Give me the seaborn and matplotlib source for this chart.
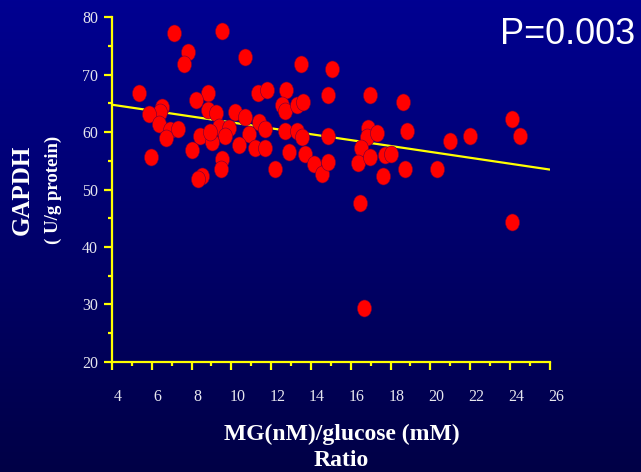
import numpy as np
import pandas as pd
import matplotlib
matplotlib.use("Agg")
import matplotlib.pyplot as plt
import matplotlib.transforms as mtransforms
from matplotlib.path import Path
import seaborn as sns

# values
ratio = [7.10, 9.55, 7.82, 7.62, 10.66, 13.52, 15.05, 5.37, 8.85, 8.23,
         11.36, 11.80, 12.72, 12.52, 12.70, 13.31, 13.61, 14.85, 16.98, 6.50,
         6.40, 5.86, 6.38, 6.92, 7.30, 6.70, 5.98, 8.80, 9.23, 10.17,
         10.67, 9.37, 9.87, 9.67, 8.43, 9.05, 11.39, 11.70, 10.89, 10.37,
         11.18, 11.70, 8.02, 12.70, 13.31, 13.54, 14.85, 12.90, 13.70, 14.13,
         14.55, 14.85, 9.55, 9.47, 8.54, 8.34, 12.20, 16.89, 16.81, 16.49,
         16.37, 16.98, 16.47, 18.62, 17.31, 18.82, 17.70, 18.03, 17.60, 18.72,
         20.35, 20.97, 21.98, 24.12, 24.52, 24.12, 16.68, 8.93]
gapdh = [77.3, 77.7, 73.9, 71.8, 73.1, 71.9, 71.0, 66.9, 66.9, 65.6,
         66.9, 67.3, 67.3, 64.7, 63.7, 64.7, 65.2, 66.4, 66.4, 64.4,
         63.5, 63.1, 61.4, 60.4, 60.6, 59.0, 55.6, 63.8, 63.4, 63.5,
         62.7, 60.9, 60.8, 59.3, 59.3, 58.2, 61.8, 60.5, 59.7, 57.7,
         57.3, 57.3, 56.9, 60.2, 60.2, 59.2, 59.4, 56.5, 56.1, 54.4,
         52.7, 54.8, 55.4, 53.6, 52.3, 51.8, 53.5, 60.8, 59.2, 57.3,
         54.7, 55.7, 47.7, 65.2, 59.8, 60.2, 56.0, 56.1, 52.4, 53.5,
         53.5, 58.5, 59.4, 62.3, 59.4, 44.4, 29.4, 60.1]
x_ticks = list(range(4, 27, 2))
y_ticks = list(range(20, 81, 10))

df = pd.DataFrame({"ratio": ratio, "gapdh": gapdh})

sns.set_style("ticks")
plt.rcParams["font.family"] = ["Liberation Serif", "DejaVu Serif"]

fig = plt.figure(figsize=(6.41, 4.72), dpi=100)

# dark blue vertical gradient background
bg = fig.add_axes([0, 0, 1, 1], zorder=-10)
grad = np.linspace(0, 1, 256).reshape(-1, 1)
top = np.array([0, 0, 145]) / 255
bot = np.array([0, 0, 70]) / 255
img = top + (bot - top) * grad[:, :, None]
bg.imshow(img, aspect="auto", extent=[0, 1, 0, 1])
bg.axis("off")

ax = fig.add_axes([0.1747, 0.2337, 0.683, 0.7296])
ax.set_facecolor("none")
ax.set_xlim(4, 26)
ax.set_ylim(20, 80)

yellow = "#FFFF00"
ellipse = Path(Path.unit_circle().vertices * [0.83, 1.0], Path.unit_circle().codes)

# fitted line over the full x range (xlim is set first so truncate=False spans it)
sns.regplot(data=df, x="ratio", y="gapdh", ax=ax, scatter=False, ci=None,
            truncate=False, line_kws={"color": yellow, "lw": 1.6, "zorder": 2})
sns.scatterplot(data=df, x="ratio", y="gapdh", ax=ax, marker=ellipse, s=150,
                color="#FF0000", edgecolor="#6A0040", linewidth=0.4, zorder=3)

ax.set_xlim(4, 26)
ax.set_ylim(20, 80)
ax.set_xticks(x_ticks)
ax.set_yticks(y_ticks)
ax.set_xticks(range(5, 26, 2), minor=True)
ax.set_yticks(range(25, 80, 10), minor=True)
ax.set_xlabel("")
ax.set_ylabel("")

for side in ["top", "right"]:
    ax.spines[side].set_visible(False)
for side in ["left", "bottom"]:
    ax.spines[side].set_color(yellow)
    ax.spines[side].set_linewidth(1.6)

ax.tick_params(which="major", length=6, width=1.6, color=yellow,
               labelcolor="#E6E6EE", labelsize=11.5)
ax.tick_params(which="minor", length=3, width=1.6, color=yellow)
ax.tick_params(axis="x", which="major", pad=14)
ax.tick_params(axis="y", which="major", pad=4)

shift = mtransforms.ScaledTranslation(6 / 100, 0, fig.dpi_scale_trans)
for lab in ax.get_xticklabels():
    lab.set_transform(lab.get_transform() + shift)

W, H = 641, 472
fig.text(342 / W, 1 - 434 / H, "MG(nM)/glucose (mM)", ha="center", va="center",
         fontsize=17, fontweight="bold", color="white")
fig.text(341 / W, 1 - 460 / H, "Ratio", ha="center", va="center",
         fontsize=17, fontweight="bold", color="white")
fig.text(22 / W, 1 - 190 / H, "GAPDH", ha="center", va="center", rotation=90,
         fontsize=18, fontweight="bold", color="white")
fig.text(53 / W, 1 - 190 / H, "( U/g protein)", ha="center", va="center",
         rotation=90, fontsize=13.5, fontweight="bold", color="white")
fig.text(568 / W, 1 - 35 / H, "P=0.003", ha="center", va="center",
         fontsize=26, color="white", family=["Liberation Sans", "DejaVu Sans"])

fig.savefig("out.png", dpi=100)
